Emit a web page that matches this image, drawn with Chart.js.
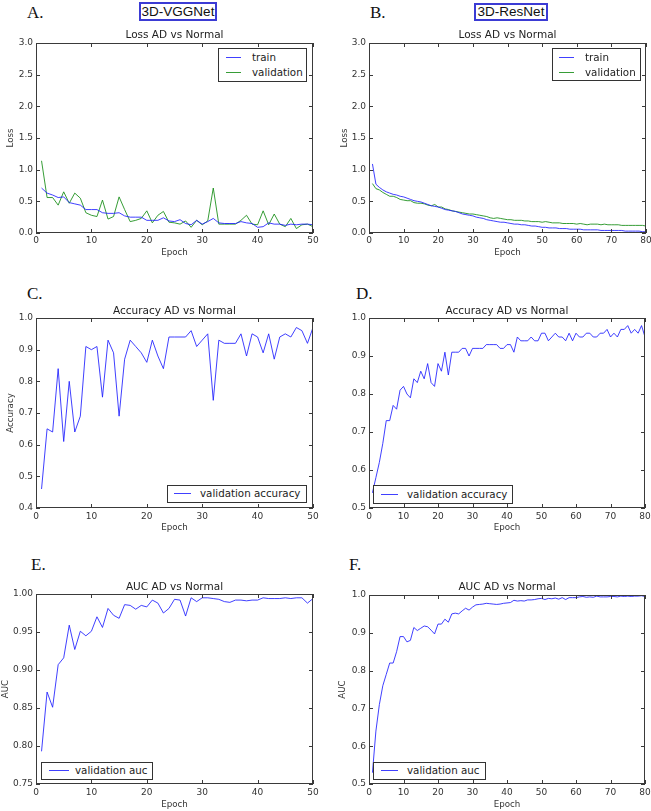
<!DOCTYPE html>
<html>
<head>
<meta charset="utf-8">
<script src="https://cdn.jsdelivr.net/npm/chart.js@4.4.1/dist/chart.umd.min.js"></script>
<style>
  body { margin: 0; background: #fff; width: 651px; height: 811px; position: relative; overflow: hidden; font-family: "DejaVu Sans", sans-serif; }
  .panel { position: absolute; }
  .tag { position: absolute; font-family: "Liberation Serif", serif; font-size: 17px; line-height: 1; color: #111; }
  .net { position: absolute; border: 2px solid #3b3bd4; box-sizing: border-box; font-family: "Liberation Sans", Arial, sans-serif; font-size: 13.5px; color: #111; text-align: center; }
  .legend { position: absolute; border: 1px solid #333; background: #fff; box-sizing: border-box; font-size: 10.3px; color: #222; }
  .legend .row { position: absolute; left: 0; right: 0; height: 14px; }
  .legend .sw { position: absolute; top: 7px; height: 0; border-top: 1.3px solid; }
  .legend .tx { position: absolute; top: 0; line-height: 14px; white-space: nowrap; }
</style>
</head>
<body>
<div class="tag" style="left:27px;top:4px">A.</div>
<div class="tag" style="left:370px;top:4px">B.</div>
<div class="tag" style="left:27px;top:285px">C.</div>
<div class="tag" style="left:356px;top:285px">D.</div>
<div class="tag" style="left:31px;top:556px">E.</div>
<div class="tag" style="left:349px;top:556px">F.</div>
<div class="net" style="left:139px;top:2px;width:78px;height:19px;line-height:15px">3D-VGGNet</div>
<div class="net" style="left:474px;top:3px;width:74px;height:18px;line-height:14px">3D-ResNet</div>

<div class="panel" id="pA" style="left:0px;top:29px;width:323px;height:229px"><canvas id="cA"></canvas></div>
<div class="panel" id="pB" style="left:333px;top:29px;width:318px;height:229px"><canvas id="cB"></canvas></div>
<div class="panel" id="pC" style="left:0px;top:305px;width:323px;height:228px"><canvas id="cC"></canvas></div>
<div class="panel" id="pD" style="left:333px;top:305px;width:318px;height:228px"><canvas id="cD"></canvas></div>
<div class="panel" id="pE" style="left:0px;top:581px;width:323px;height:229px"><canvas id="cE"></canvas></div>
<div class="panel" id="pF" style="left:333px;top:581px;width:318px;height:229px"><canvas id="cF"></canvas></div>

<script>
// tick values
const epochTicks50 = [0, 10, 20, 30, 40, 50];
const epochTicks80 = [0, 10, 20, 30, 40, 50, 60, 70, 80];
const lossTicks = [0, 0.5, 1.0, 1.5, 2.0, 2.5, 3.0];
const vggAccTicks = [0.4, 0.5, 0.6, 0.7, 0.8, 0.9, 1.0];
const resAccTicks = [0.5, 0.6, 0.7, 0.8, 0.9, 1.0];
const vggAucTicks = [0.75, 0.80, 0.85, 0.90, 0.95, 1.00];
const resAucTicks = [0.5, 0.6, 0.7, 0.8, 0.9, 1.0];

// 3D-VGGNet, 50 epochs
const vggTrainLoss = [0.71,0.63,0.60,0.56,0.57,0.48,0.46,0.44,0.37,0.37,
  0.37,0.32,0.31,0.31,0.32,0.27,0.25,0.25,0.25,0.20,
  0.20,0.20,0.24,0.19,0.18,0.21,0.15,0.13,0.20,0.14,
  0.18,0.23,0.16,0.15,0.15,0.15,0.18,0.16,0.15,0.09,
  0.10,0.16,0.14,0.14,0.12,0.14,0.13,0.14,0.14,0.13];
const vggValLoss = [1.14,0.56,0.56,0.44,0.65,0.47,0.63,0.55,0.32,0.28,
  0.26,0.52,0.22,0.26,0.57,0.37,0.18,0.20,0.23,0.35,
  0.16,0.28,0.34,0.17,0.16,0.14,0.19,0.09,0.20,0.13,
  0.19,0.71,0.14,0.14,0.14,0.14,0.20,0.28,0.14,0.13,
  0.35,0.13,0.30,0.14,0.10,0.23,0.07,0.13,0.14,0.10];
const vggValAcc = [0.46,0.65,0.64,0.84,0.61,0.80,0.64,0.69,0.91,0.90,
  0.91,0.75,0.93,0.89,0.69,0.87,0.93,0.91,0.89,0.86,
  0.93,0.88,0.84,0.94,0.94,0.94,0.94,0.96,0.91,0.93,
  0.95,0.74,0.93,0.92,0.92,0.92,0.95,0.88,0.95,0.94,
  0.89,0.95,0.87,0.94,0.95,0.94,0.97,0.96,0.92,0.97];
const vggValAuc = [0.793,0.871,0.851,0.907,0.916,0.959,0.927,0.951,0.945,0.951,
  0.970,0.956,0.981,0.972,0.968,0.986,0.985,0.980,0.985,0.983,
  0.992,0.988,0.975,0.981,0.993,0.992,0.971,0.995,0.990,0.995,
  0.995,0.994,0.993,0.990,0.989,0.992,0.992,0.991,0.992,0.992,
  0.995,0.994,0.994,0.994,0.995,0.994,0.995,0.995,0.988,0.994];

// 3D-ResNet, 80 epochs
const resTrainLoss = [1.09,0.77,0.72,0.68,0.65,0.63,0.61,0.60,0.58,0.57,
  0.55,0.53,0.51,0.50,0.49,0.47,0.45,0.43,0.42,0.41,
  0.39,0.37,0.36,0.35,0.34,0.32,0.30,0.29,0.28,0.27,
  0.25,0.24,0.23,0.21,0.20,0.19,0.18,0.17,0.17,0.16,
  0.15,0.14,0.14,0.13,0.13,0.12,0.11,0.11,0.10,0.09,
  0.09,0.08,0.08,0.08,0.07,0.07,0.07,0.06,0.06,0.06,
  0.06,0.05,0.05,0.05,0.05,0.05,0.04,0.04,0.04,0.04,
  0.04,0.04,0.04,0.03,0.03,0.03,0.03,0.03,0.02,0.02];
const resValLoss = [0.78,0.70,0.68,0.64,0.61,0.58,0.58,0.56,0.53,0.52,
  0.51,0.51,0.48,0.47,0.47,0.46,0.44,0.43,0.45,0.41,
  0.41,0.38,0.37,0.35,0.34,0.33,0.32,0.31,0.30,0.30,
  0.29,0.28,0.27,0.26,0.24,0.23,0.24,0.23,0.22,0.21,
  0.21,0.20,0.20,0.20,0.19,0.19,0.18,0.18,0.18,0.17,
  0.18,0.17,0.16,0.16,0.16,0.15,0.15,0.15,0.15,0.14,
  0.15,0.14,0.13,0.14,0.14,0.14,0.13,0.14,0.13,0.13,
  0.13,0.13,0.12,0.12,0.12,0.12,0.12,0.12,0.12,0.11];
const resValAcc = [0.54,0.58,0.62,0.67,0.73,0.73,0.77,0.76,0.81,0.82,
  0.80,0.79,0.84,0.83,0.86,0.84,0.88,0.83,0.82,0.88,
  0.86,0.91,0.85,0.91,0.91,0.91,0.92,0.92,0.90,0.92,
  0.92,0.92,0.92,0.93,0.93,0.93,0.93,0.92,0.92,0.93,
  0.93,0.91,0.95,0.94,0.94,0.94,0.95,0.94,0.94,0.96,
  0.96,0.94,0.95,0.96,0.95,0.95,0.94,0.96,0.94,0.96,
  0.95,0.95,0.96,0.96,0.95,0.95,0.96,0.96,0.97,0.95,
  0.96,0.95,0.97,0.97,0.98,0.96,0.97,0.96,0.98,0.95];
const resValAuc = [0.53,0.64,0.71,0.76,0.79,0.82,0.82,0.85,0.89,0.89,
  0.876,0.88,0.914,0.906,0.912,0.918,0.916,0.907,0.897,0.923,
  0.923,0.936,0.928,0.950,0.952,0.950,0.958,0.965,0.960,0.968,
  0.974,0.975,0.976,0.978,0.977,0.976,0.975,0.976,0.978,0.979,
  0.980,0.986,0.984,0.985,0.984,0.987,0.987,0.988,0.990,0.991,
  0.988,0.991,0.990,0.992,0.989,0.993,0.988,0.993,0.993,0.993,
  0.995,0.996,0.994,0.995,0.994,0.997,0.995,0.995,0.995,0.996,
  0.996,0.995,0.997,0.996,0.997,0.996,0.997,0.997,0.998,0.996];

const BLUE = 'rgba(30,30,255,0.85)';
const GREEN = 'rgba(20,140,20,0.85)';

Chart.defaults.font.family = '"DejaVu Sans", sans-serif';
Chart.defaults.color = '#333';

// matplotlib-ish box with inward tick marks
const framePlugin = {
  id: 'frame',
  afterDatasetsDraw(chart) {
    const { ctx, chartArea: a, scales: { x, y } } = chart;
    ctx.save();
    ctx.strokeStyle = '#3a3a3a';
    ctx.lineWidth = 1;
    ctx.strokeRect(a.left + 0.5, a.top + 0.5, a.right - a.left - 1, a.bottom - a.top - 1);
    ctx.beginPath();
    x.ticks.forEach(t => {
      const px = Math.round(x.getPixelForValue(t.value)) + 0.5;
      ctx.moveTo(px, a.bottom); ctx.lineTo(px, a.bottom - 4);
      ctx.moveTo(px, a.top); ctx.lineTo(px, a.top + 4);
    });
    y.ticks.forEach(t => {
      const py = Math.round(y.getPixelForValue(t.value)) + 0.5;
      ctx.moveTo(a.left, py); ctx.lineTo(a.left + 4, py);
      ctx.moveTo(a.right, py); ctx.lineTo(a.right - 4, py);
    });
    ctx.stroke();
    ctx.restore();
  }
};

const panels = [
  { canvas: 'cA', title: 'Loss AD vs Normal', titlePad: 1.4, yTitle: 'Loss', yTitlePad: 6,
    yTicks: lossTicks, yDec: 1, xTicks: epochTicks50, xPad: 2, xH: 25, padRight: 10,
    series: [{ label: 'train', data: vggTrainLoss, color: BLUE }, { label: 'validation', data: vggValLoss, color: GREEN }],
    legend: { left: 218, top: 48, width: 89, height: 34, rows: [0.5, 15.5], swL: 7, swW: 15, txL: 33 } },
  { canvas: 'cB', title: 'Loss AD vs Normal', titlePad: 1.4, yTitle: 'Loss', yTitlePad: 7,
    yTicks: lossTicks, yDec: 1, xTicks: epochTicks80, xPad: 2, xH: 25, padRight: 5,
    series: [{ label: 'train', data: resTrainLoss, color: BLUE }, { label: 'validation', data: resValLoss, color: GREEN }],
    legend: { left: 552, top: 48, width: 89, height: 33, rows: [0.5, 15.5], swL: 6, swW: 15, txL: 32 } },
  { canvas: 'cC', title: 'Accuracy AD vs Normal', titlePad: 0.4, yTitle: 'Accuracy', yTitlePad: 6,
    yTicks: vggAccTicks, yDec: 1, xTicks: epochTicks50, xPad: 3, xH: 25, padRight: 10,
    series: [{ label: 'validation accuracy', data: vggValAcc, color: BLUE }],
    legend: { left: 167, top: 485, width: 140, height: 18, rows: [0], swL: 6, swW: 17, txL: 32 } },
  { canvas: 'cD', title: 'Accuracy AD vs Normal', titlePad: 0.4, yTitle: '', yTitlePad: 0,
    yTicks: resAccTicks, yDec: 1, xTicks: epochTicks80, xPad: 3, xH: 25, padRight: 6,
    series: [{ label: 'validation accuracy', data: resValAcc, color: BLUE }],
    legend: { left: 373, top: 485, width: 140, height: 19, rows: [0.5], swL: 7, swW: 17, txL: 33 } },
  { canvas: 'cE', title: 'AUC AD vs Normal', titlePad: 0.4, yTitle: 'AUC', yTitlePad: 0.4,
    yTicks: vggAucTicks, yDec: 2, xTicks: epochTicks50, xPad: 3, xH: 26, padRight: 10,
    series: [{ label: 'validation auc', data: vggValAuc, color: BLUE }],
    legend: { left: 41, top: 762, width: 112, height: 18, rows: [0], swL: 7, swW: 20, txL: 33 } },
  { canvas: 'cF', title: 'AUC AD vs Normal', titlePad: 1.4, yTitle: 'AUC', yTitlePad: 4.4,
    yTicks: resAucTicks, yDec: 1, xTicks: epochTicks80, xPad: 3, xH: 26, padRight: 6,
    series: [{ label: 'validation auc', data: resValAuc, color: BLUE }],
    legend: { left: 373, top: 762, width: 113, height: 18, rows: [0], swL: 7, swW: 17, txL: 33 } }
];

function buildLegend(chart, lg) {
  const box = document.createElement('div');
  box.className = 'legend';
  Object.assign(box.style, { left: lg.left + 'px', top: lg.top + 'px', width: lg.width + 'px', height: lg.height + 'px' });
  chart.data.datasets.forEach((ds, i) => {
    const row = document.createElement('div');
    row.className = 'row';
    row.style.top = lg.rows[i] + 'px';
    const sw = document.createElement('span');
    sw.className = 'sw';
    Object.assign(sw.style, { left: lg.swL + 'px', width: lg.swW + 'px', borderTopColor: ds.borderColor });
    const tx = document.createElement('span');
    tx.className = 'tx';
    tx.style.left = lg.txL + 'px';
    tx.textContent = ds.label;
    row.appendChild(sw);
    row.appendChild(tx);
    box.appendChild(row);
  });
  document.body.appendChild(box);
}

panels.forEach(p => {
  const xs = p.xTicks, ys = p.yTicks;
  const chart = new Chart(document.getElementById(p.canvas), {
    type: 'line',
    data: {
      datasets: p.series.map(s => ({
        label: s.label,
        data: s.data.map((v, i) => ({ x: i + 1, y: v })),
        borderColor: s.color,
        borderWidth: 1,
        pointRadius: 0,
        tension: 0,
        fill: false
      }))
    },
    options: {
      responsive: true,
      maintainAspectRatio: false,
      animation: false,
      devicePixelRatio: 1,
      layout: { padding: { left: 0, right: p.padRight, top: 0, bottom: 0 } },
      plugins: {
        legend: { display: false },
        tooltip: { enabled: false },
        title: {
          display: true, text: p.title, fullSize: false, color: '#222',
          font: { size: 10.5, weight: 'normal' },
          padding: { top: 0, bottom: p.titlePad }
        }
      },
      scales: {
        x: {
          type: 'linear', min: xs[0], max: xs[xs.length - 1],
          grid: { display: false, drawTicks: false }, border: { display: false },
          afterBuildTicks: s => { s.ticks = xs.map(v => ({ value: v })); },
          afterFit: s => { s.height = p.xH; s.paddingLeft = 0; s.paddingRight = 0; },
          ticks: { font: { size: 9 }, color: '#333', padding: p.xPad, maxRotation: 0, callback: v => String(v) },
          title: { display: true, text: 'Epoch', color: '#333', font: { size: 8.7 }, padding: 0 }
        },
        y: {
          min: ys[0], max: ys[ys.length - 1],
          grid: { display: false, drawTicks: false }, border: { display: false },
          afterBuildTicks: s => { s.ticks = ys.map(v => ({ value: v })); },
          afterFit: s => { s.width = 36; s.paddingTop = 0; s.paddingBottom = 0; },
          ticks: { font: { size: 9 }, color: '#333', padding: 3, callback: v => Number(v).toFixed(p.yDec) },
          title: { display: p.yTitle !== '', text: p.yTitle, color: '#333', font: { size: 8.7 }, padding: { top: p.yTitlePad, bottom: 0 } }
        }
      }
    },
    plugins: [framePlugin]
  });
  buildLegend(chart, p.legend);
});
</script>
</body>
</html>
